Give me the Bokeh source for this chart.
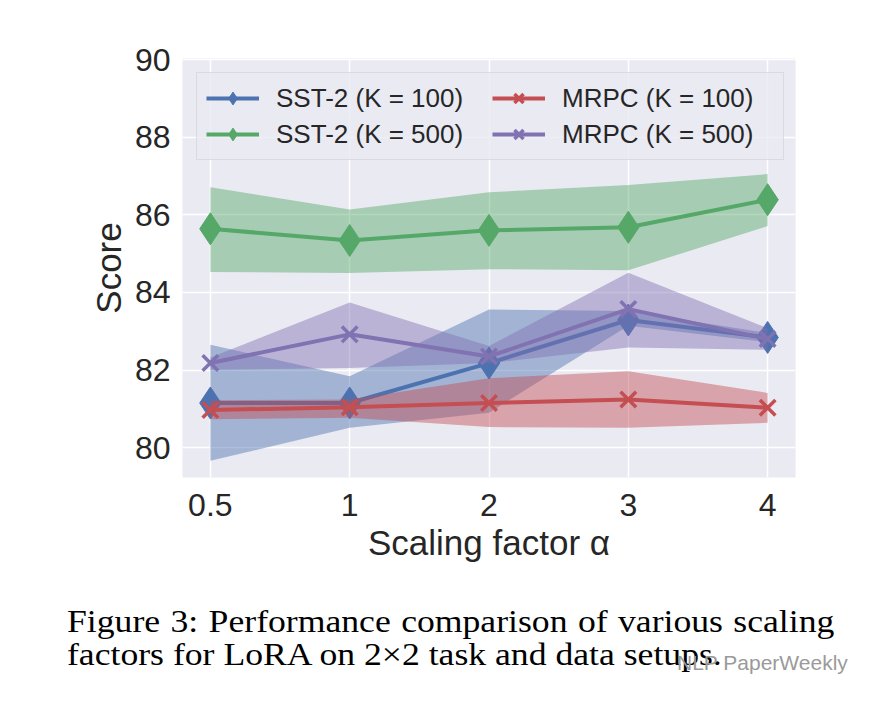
from bokeh.plotting import figure
from bokeh.layouts import column
from bokeh.models import Legend, LegendItem, ColumnDataSource, FixedTicker, Range1d, Div
from bokeh.embed import file_html
from bokeh.resources import INLINE

# ---- data ----
alpha_labels = ["0.5", "1", "2", "3", "4"]
y_ticks = [80, 82, 84, 86, 88, 90]

sst100 = [81.15, 81.15, 82.18, 83.29, 82.84]
sst100_lo = [79.66, 80.51, 80.90, 83.14, 82.72]
sst100_hi = [82.65, 81.84, 83.56, 83.52, 82.95]

sst500 = [85.64, 85.34, 85.60, 85.68, 86.39]
sst500_lo = [84.53, 84.50, 84.60, 84.57, 85.71]
sst500_hi = [86.71, 86.14, 86.58, 86.77, 87.05]

mrpc100 = [80.97, 81.04, 81.15, 81.24, 81.03]
mrpc100_lo = [80.73, 80.77, 80.53, 80.51, 80.64]
mrpc100_hi = [81.22, 81.24, 81.79, 81.97, 81.41]

mrpc500 = [82.18, 82.92, 82.35, 83.57, 82.80]
mrpc500_lo = [82.01, 82.05, 82.18, 82.58, 82.52]
mrpc500_hi = [82.32, 83.74, 82.62, 84.51, 83.08]

series_names = ["SST-2 (K = 100)", "SST-2 (K = 500)", "MRPC (K = 100)", "MRPC (K = 500)"]
series_colors = ["#4C72B0", "#55A868", "#C44E52", "#8172B2"]
series_markers = ["diamond", "diamond", "x", "x"]

caption_lines = [
    "Figure 3: Performance comparison of various scaling",
    "factors for LoRA on 2\u00d72 task and data setups.",
]
watermark = "NLP PaperWeekly"

# ---- chart ----
xs = list(range(len(alpha_labels)))

W = 860
H_CHART = 568
H_CAP = 116

p = figure(width=W, height=H_CHART, output_backend="svg", toolbar_location=None,
           x_range=Range1d(-0.2, 4.2), y_range=Range1d(79.23, 90.03))
p.min_border_left = 182
p.min_border_right = 65
p.min_border_top = 58
p.min_border_bottom = 91
p.background_fill_color = "#EAEAF2"
p.border_fill_color = "white"
p.outline_line_color = None

p.xgrid.grid_line_color = "white"
p.ygrid.grid_line_color = "white"
p.xgrid.grid_line_width = 1.5
p.ygrid.grid_line_width = 1.5

for ax in (p.xaxis[0], p.yaxis[0]):
    ax.axis_line_color = None
    ax.major_tick_line_color = None
    ax.minor_tick_line_color = None
    ax.major_label_text_font = "Liberation Sans"
    ax.major_label_text_font_size = "32px"
    ax.major_label_text_color = "#262626"
    ax.axis_label_text_font = "Liberation Sans"
    ax.axis_label_text_font_size = "35px"
    ax.axis_label_text_font_style = "normal"
    ax.axis_label_text_color = "#262626"

p.xaxis.ticker = FixedTicker(ticks=xs)
p.xaxis.major_label_overrides = {i: s for i, s in zip(xs, alpha_labels)}
p.yaxis.ticker = FixedTicker(ticks=y_ticks)
p.xaxis.major_label_standoff = 10
p.yaxis.major_label_standoff = 6
p.xaxis.axis_label = "Scaling factor \u03b1"
p.yaxis.axis_label = "Score"
p.xaxis.axis_label_standoff = 4
p.yaxis.axis_label_standoff = 4

all_series = [
    (sst100, sst100_lo, sst100_hi),
    (sst500, sst500_lo, sst500_hi),
    (mrpc100, mrpc100_lo, mrpc100_hi),
    (mrpc500, mrpc500_lo, mrpc500_hi),
]

items = []
for (mid, lo, hi), name, col, mk in zip(all_series, series_names, series_colors, series_markers):
    src = ColumnDataSource(dict(x=xs, y=mid, lo=lo, hi=hi))
    p.varea(x="x", y1="lo", y2="hi", source=src, fill_color=col, fill_alpha=0.45)
    lr = p.line(x="x", y="y", source=src, line_color=col, line_width=4)
    if mk == "diamond":
        mr = p.scatter(x="x", y="y", source=src, marker="diamond", size=32,
                       fill_color=col, line_color=col, line_width=1)
    else:
        mr = p.scatter(x="x", y="y", source=src, marker="x", size=22,
                       line_color=col, line_width=3.5)
    items.append(LegendItem(label=name, renderers=[lr, mr]))

legend = Legend(items=items, location="top_left", ncols=2,
                label_text_font="Liberation Sans", label_text_font_size="26px",
                label_text_color="#262626",
                glyph_width=53, glyph_height=32, label_standoff=17,
                label_width=212, spacing=4, padding=9, margin=14,
                background_fill_color="#EAEAF2", background_fill_alpha=0.8,
                border_line_color="#CCCCCC", border_line_width=1)
p.add_layout(legend)

# ---- caption below the chart ----
serif = ("font-family:'Liberation Serif','Times New Roman',serif;font-size:31px;"
         "line-height:31px;color:#000;white-space:nowrap;"
         "transform:scaleX(1.15);transform-origin:0 0;")
sans = ("font-family:'Liberation Sans',Arial,sans-serif;font-size:21px;"
        "line-height:21px;color:#9a9a9a;white-space:nowrap;")
cap_html = (
    f'<div style="position:relative;width:{W}px;height:{H_CAP}px;">'
    f'<div style="position:absolute;left:67px;top:38px;word-spacing:1.3px;{serif}">{caption_lines[0]}</div>'
    f'<div style="position:absolute;left:67px;top:71px;{serif}">{caption_lines[1]}</div>'
    f'<div style="position:absolute;left:677px;top:84px;{sans}">{watermark}</div>'
    '</div>'
)
d = Div(text=cap_html, width=W, height=H_CAP, margin=0)

layout = column(p, d, spacing=0)
open("out.html", "w").write(file_html(layout, INLINE))
